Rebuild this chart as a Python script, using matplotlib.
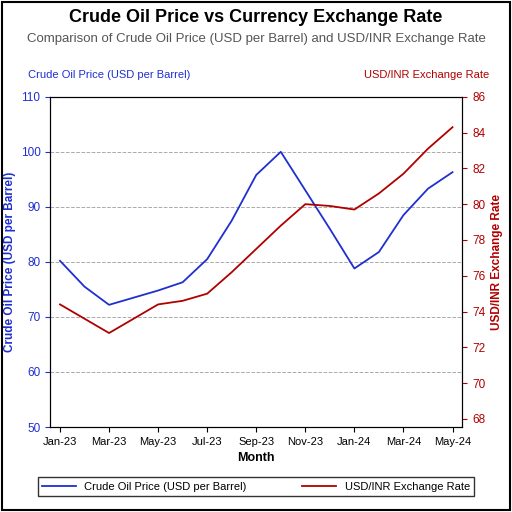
import matplotlib
matplotlib.use("Agg")
import matplotlib.pyplot as plt

plt.rcParams['font.family'] = ['Liberation Sans Narrow', 'Liberation Sans', 'DejaVu Sans']

months = ["Jan-23", "Feb-23", "Mar-23", "Apr-23", "May-23", "Jun-23", "Jul-23", "Aug-23",
          "Sep-23", "Oct-23", "Nov-23", "Dec-23", "Jan-24", "Feb-24", "Mar-24", "Apr-24", "May-24"]
oil = [80.2, 75.5, 72.2, 73.5, 74.8, 76.3, 80.5, 87.5, 95.8, 100.0, 93.0, 86.0,
       78.8, 81.8, 88.5, 93.3, 96.3]
inr = [74.4, 73.6, 72.8, 73.6, 74.4, 74.6, 75.0, 76.2, 77.5, 78.8, 80.0, 79.9,
       79.7, 80.6, 81.7, 83.1, 84.3]

blue = '#1f2fd0'
red = '#b00000'

fig = plt.figure(figsize=(5.12, 5.12), dpi=100)
ax = fig.add_axes([0.098, 0.166, 0.805, 0.645])
x = list(range(len(months)))
l1, = ax.plot(x, oil, color=blue, lw=1.3, label='Crude Oil Price (USD per Barrel)')
ax.set_ylim(50, 110)
ax.set_yticks(range(50, 111, 10))
ax.set_xlim(-0.4, 16.4)
ax.set_xticks(x[::2])
ax.set_xticklabels(months[::2], fontsize=8)
ax.tick_params(axis='y', colors=blue, labelsize=8.5)
ax.grid(axis='y', linestyle='--', color='#aaaaaa', lw=0.7)
ax.set_xlabel('Month', fontsize=9, fontweight='bold')
ax.set_ylabel('Crude Oil Price (USD per Barrel)', color=blue, fontsize=8.5, fontweight='bold',
              labelpad=3)

ax2 = ax.twinx()
l2, = ax2.plot(x, inr, color=red, lw=1.3, label='USD/INR Exchange Rate')
ax2.set_ylim(67.55, 86)
ax2.set_yticks(range(68, 87, 2))
ax2.tick_params(axis='y', colors=red, labelsize=8.5)
ax2.set_ylabel('USD/INR Exchange Rate', color=red, fontsize=8.5, fontweight='bold')

fig.text(0.5, 0.958, 'Crude Oil Price vs Currency Exchange Rate', ha='center',
         fontsize=13, fontweight='bold')
fig.text(0.5, 0.918, 'Comparison of Crude Oil Price (USD per Barrel) and USD/INR Exchange Rate',
         ha='center', fontsize=9.5, color='#555555')
fig.text(0.055, 0.848, 'Crude Oil Price (USD per Barrel)', color=blue, fontsize=8)
fig.text(0.955, 0.848, 'USD/INR Exchange Rate', color=red, fontsize=8, ha='right')

leg = fig.legend(handles=[l1, l2], loc='lower center', bbox_to_anchor=(0.5, 0.02), ncol=2,
                 fontsize=8, frameon=True, fancybox=False, edgecolor='black',
                 columnspacing=5, handlelength=3)

fig.patches.append(plt.Rectangle((0.003, 0.003), 0.994, 0.994, transform=fig.transFigure,
                                 fill=False, edgecolor='black', lw=1.5))
fig.savefig('out.png', dpi=100)
